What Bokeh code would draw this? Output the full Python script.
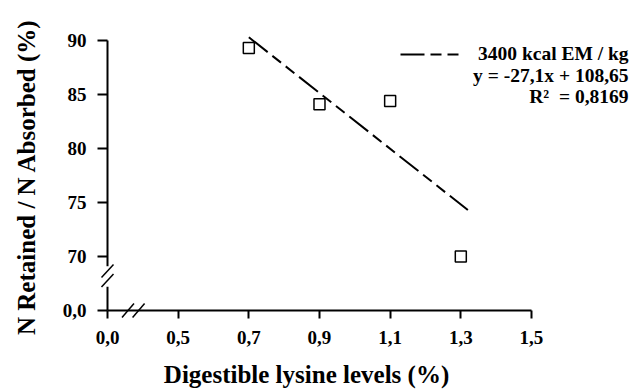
import math
from bokeh.plotting import figure
from bokeh.models import Range1d, FixedTicker, Label, Legend, LegendItem
from bokeh.embed import file_html
from bokeh.resources import INLINE

# ---- data ----
lysine = [0.7, 0.9, 1.1, 1.3]
n_ratio = [89.3, 84.1, 84.4, 70.0]
# trend line as drawn in the picture (y = -27,1x + 108,65)
fit_x = [0.70, 1.32]
fit_y = [90.3, 74.3]

x_tick_vals = [0.3, 0.5, 0.7, 0.9, 1.1, 1.3, 1.5]
x_tick_labels = ["0,0", "0,5", "0,7", "0,9", "1,1", "1,3", "1,5"]
y_tick_vals = [65, 70, 75, 80, 85, 90]
y_tick_labels = ["0,0", "70", "75", "80", "85", "90"]

legend_label = "3400 kcal EM / kg"
eq_text = "y = -27,1x + 108,65"
r2_text = "R\u00b2\u00a0 = 0,8169"
x_title = "Digestible lysine levels (%)"
y_title = "N Retained / N Absorbed (%)"

FONT = "Liberation Serif"

p = figure(width=630, height=389, output_backend="svg", toolbar_location=None,
           x_range=Range1d(-0.00286, 1.7803), y_range=Range1d(57.685, 93.704),
           min_border=0, min_border_left=0, min_border_right=0, min_border_top=0,
           min_border_bottom=0)
p.outline_line_color = None
p.grid.visible = False
p.background_fill_color = "white"
p.border_fill_color = "white"

for ax, ticks, labels, loc, bnds, tlen, stand in (
        (p.xaxis[0], x_tick_vals, x_tick_labels, 65, (0.3, 1.5), 8, 13),
        (p.yaxis[0], y_tick_vals, y_tick_labels, 0.3, (65, 90), 10, 11)):
    ax.fixed_location = loc
    ax.bounds = bnds
    ax.ticker = FixedTicker(ticks=ticks)
    ax.major_label_overrides = dict(zip(ticks, labels))
    ax.axis_line_width = 2
    ax.axis_line_color = "black"
    ax.major_tick_line_width = 2
    ax.major_tick_line_color = "black"
    ax.major_tick_out = tlen
    ax.major_tick_in = 0
    ax.minor_tick_line_color = None
    ax.major_label_text_font = FONT
    ax.major_label_text_font_style = "bold"
    ax.major_label_text_font_size = "19px"
    ax.major_label_text_color = "black"
    ax.major_label_standoff = stand

# axis breaks (decoration)
p.segment(x0=[0.3], y0=[67.2], x1=[0.3], y1=[69.1], line_color="white", line_width=6, level="overlay")
p.segment(x0=[0.283, 0.283], y0=[68.06, 67.18], x1=[0.317, 0.317], y1=[69.26, 68.38],
          line_color="black", line_width=1.5, level="overlay")
p.segment(x0=[0.341, 0.371], y0=[64.35, 64.35], x1=[0.375, 0.405], y1=[65.65, 65.65],
          line_color="black", line_width=1.5, level="overlay")

# regression line
r_fit = p.line(fit_x, fit_y, line_color="black", line_width=2, line_dash="24 6 11 6 11 6")
# data points
p.scatter(lysine, n_ratio, marker="square", size=11, line_color="black", line_width=1.5,
          fill_color="white")

# legend
leg = Legend(items=[LegendItem(label=legend_label, renderers=[r_fit])], location=(400, 324),
             glyph_width=60, glyph_height=20, label_height=20, label_standoff=18,
             padding=0, margin=0, border_line_color=None, background_fill_alpha=0,
             label_text_font=FONT, label_text_font_style="bold", label_text_font_size="19.5px",
             label_text_color="black")
p.add_layout(leg, "center")

p.add_layout(Label(x=1.7747, y=86.76, text=eq_text, text_align="right", text_baseline="middle",
                   text_font=FONT, text_font_style="bold", text_font_size="19.5px", text_color="black"))
p.add_layout(Label(x=1.7747, y=84.815, text=r2_text, text_align="right", text_baseline="middle",
                   text_font=FONT, text_font_style="bold", text_font_size="19.5px", text_color="black"))

p.add_layout(Label(x=0.8633, y=57.778, text=x_title, text_align="center", text_baseline="bottom",
                   text_font=FONT, text_font_style="bold", text_font_size="25px", text_color="black"))
p.add_layout(Label(x=0.0707, y=77.36, text=y_title, angle=math.pi / 2, text_align="center",
                   text_baseline="middle", text_font=FONT, text_font_style="bold",
                   text_font_size="25px", text_color="black"))

open("out.html", "w").write(file_html(p, INLINE))
